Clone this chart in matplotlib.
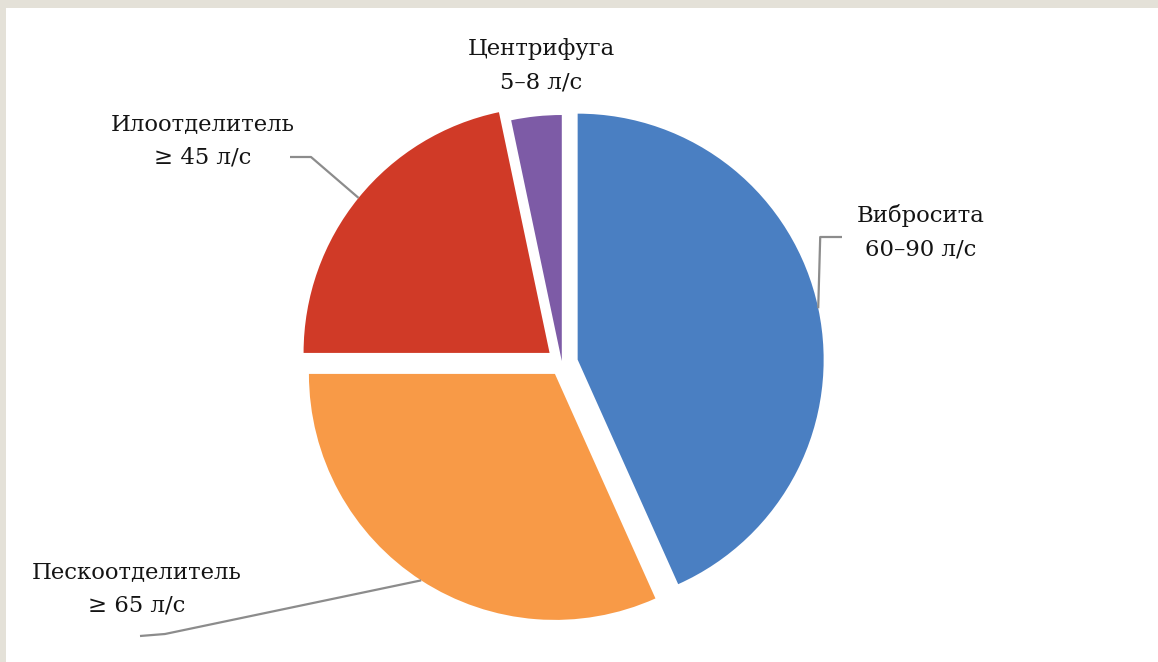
import numpy as np
import matplotlib
matplotlib.use("Agg")
import matplotlib.pyplot as plt
from matplotlib.patches import Rectangle

# Share of total throughput per separation stage (percent of the pie)
categories = ["Вибросита", "Пескоотделитель", "Илоотделитель", "Центрифуга"]
flow_ranges = ["60–90 л/с", "≥ 65 л/с", "≥ 45 л/с", "5–8 л/с"]
shares = [43.3, 31.7, 21.7, 3.3]
colors = ["#4a7fc2", "#f89a47", "#d03a27", "#7d5ba6"]

W, H = 1158, 662
fig = plt.figure(figsize=(W / 100, H / 100), dpi=100)
fig.patch.set_facecolor("white")
ax = fig.add_axes([0, 0, 1, 1])

# Frame strips along the top and left edges
fig.patches.append(Rectangle((0, 1 - 8 / H), 1, 8 / H, transform=fig.transFigure,
                             facecolor="#e4e1d8", edgecolor="none", zorder=0))
fig.patches.append(Rectangle((0, 0), 6 / W, 1, transform=fig.transFigure,
                             facecolor="#e4e1d8", edgecolor="none", zorder=0))

# explode is an absolute offset in data units (pixels here)
wedges, _ = ax.pie(shares, colors=colors, startangle=90, counterclock=False,
                   explode=[16, 13, 16, 2], radius=246, center=(562, 299),
                   wedgeprops=dict(linewidth=0))
ax.set_xlim(0, W)
ax.set_ylim(0, H)
ax.set_aspect("equal")
ax.axis("off")

font = dict(family="DejaVu Serif", fontsize=16.4, color="#141414",
            ha="center", va="center", linespacing=1.65)

# label block centres and leader elbows (None = no leader)
label_pos = [(921, 430), (137, 73), (203, 521), (541, 596)]
leader_start = [[(842, 425), "vertical"],
                [(140, 26), (165, 28)],
                [(290, 505), (311, 505)],
                None]

for w, name, rng, pos, lead in zip(wedges, categories, flow_ranges, label_pos, leader_start):
    ax.text(pos[0], pos[1], f"{name}\n{rng}", **font)
    if lead is None:
        continue
    mid = np.deg2rad((w.theta1 + w.theta2) / 2)
    cx, cy = w.center
    ex, ey = cx + w.r * np.cos(mid), cy + w.r * np.sin(mid)
    if lead[1] == "vertical":
        pts = [lead[0], (ex + 2, lead[0][1])]
    else:
        pts = list(lead)
    xs = [p[0] for p in pts] + [ex]
    ys = [p[1] for p in pts] + [ey]
    ax.plot(xs, ys, color="#8c8c8c", linewidth=1.6, solid_capstyle="butt", zorder=1)

fig.savefig("out.png", dpi=100, facecolor="white")
